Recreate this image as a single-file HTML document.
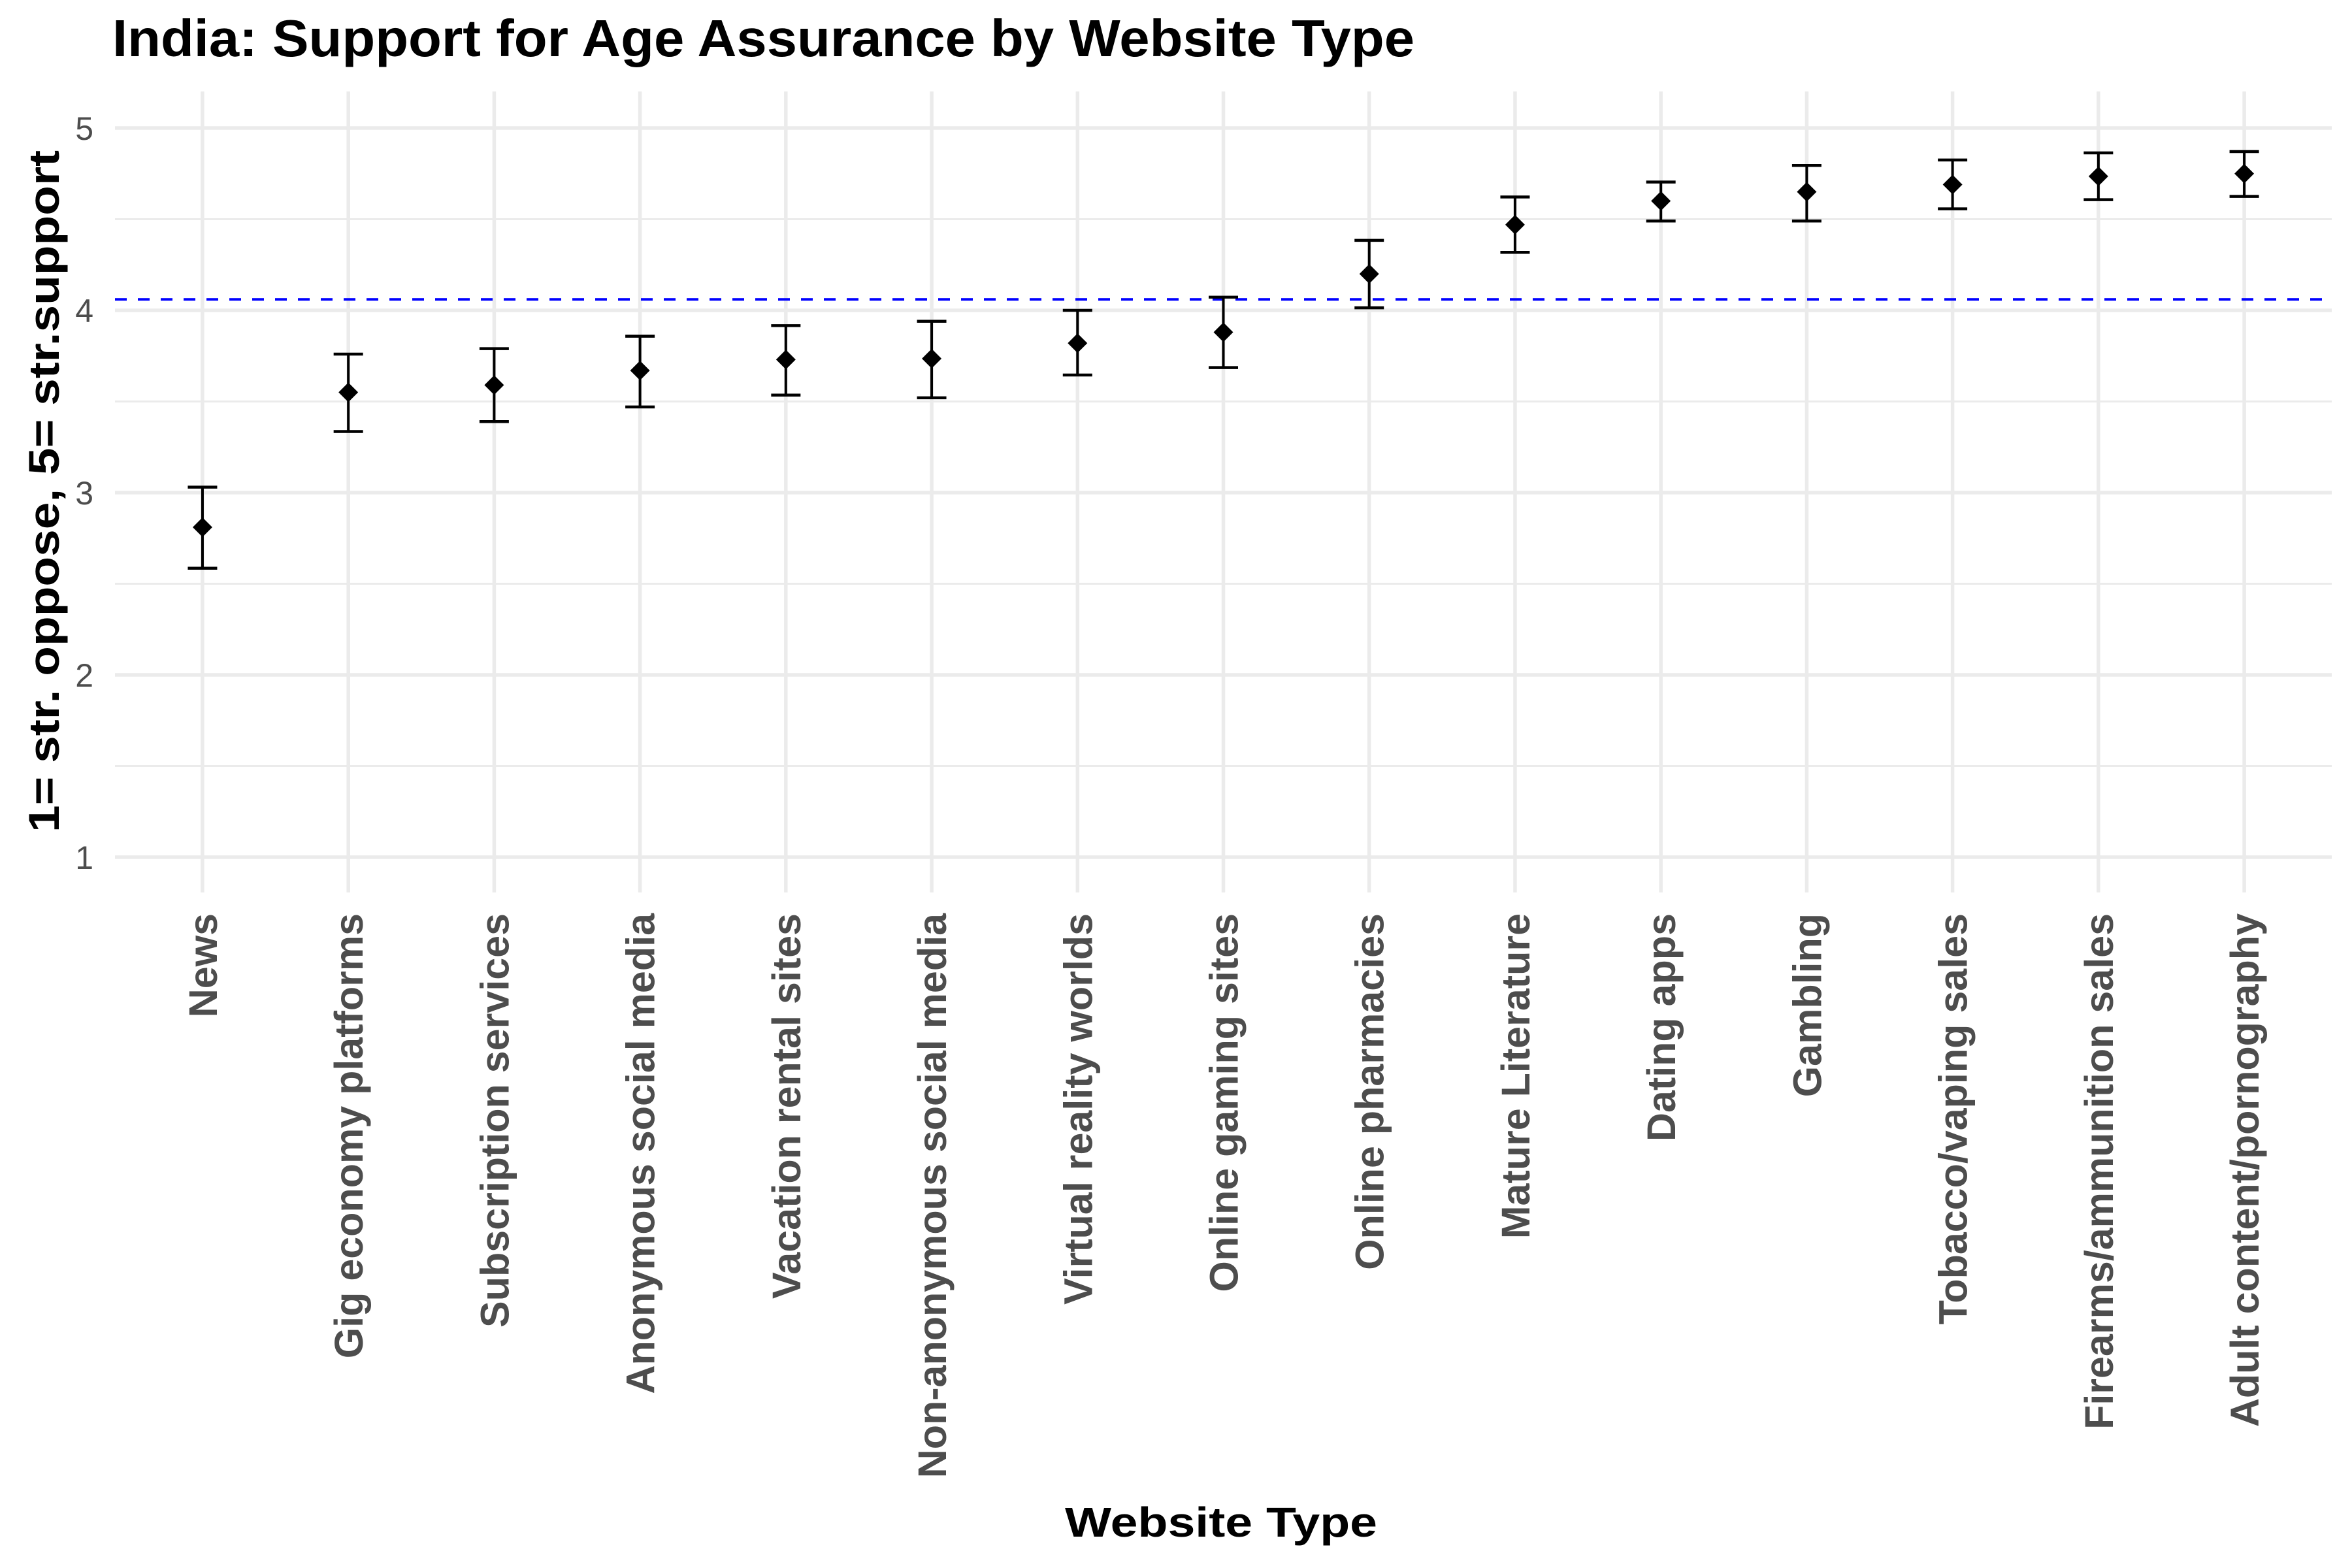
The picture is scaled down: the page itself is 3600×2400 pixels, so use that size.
<!DOCTYPE html>
<html><head><meta charset="utf-8"><style>html,body{margin:0;padding:0;background:#fff}svg{display:block}</style></head>
<body>
<svg id="chart" width="3600" height="2400" viewBox="0 0 3600 2400" xmlns="http://www.w3.org/2000/svg" font-family="Liberation Sans, Arial, sans-serif">
<rect x="0" y="0" width="3600" height="2400" fill="#fff"/>
<g id="grid"></g>
<g id="marks"></g>
<g id="labels"></g>
<text x="172" y="86" font-size="80" font-weight="bold" fill="#000" textLength="1993" lengthAdjust="spacingAndGlyphs">India: Support for Age Assurance by Website Type</text>
<text transform="translate(90,752) rotate(-90)" text-anchor="middle" font-size="66" font-weight="bold" fill="#000" textLength="1044" lengthAdjust="spacingAndGlyphs">1= str. oppose, 5= str.support</text>
<text x="1869" y="2352" text-anchor="middle" font-size="64" font-weight="bold" fill="#000" textLength="478" lengthAdjust="spacingAndGlyphs">Website Type</text>
</svg>
<script>
const categories = ["News","Gig economy platforms","Subscription services","Anonymous social media","Vacation rental sites","Non-anonymous social media","Virtual reality worlds","Online gaming sites","Online pharmacies","Mature Literature","Dating apps","Gambling","Tobacco/vaping sales","Firearms/ammunition sales","Adult content/pornography"];
const means = [2.81,3.55,3.59,3.67,3.73,3.735,3.82,3.88,4.20,4.47,4.60,4.65,4.69,4.735,4.75];
const lower = [2.585,3.335,3.39,3.47,3.535,3.52,3.645,3.686,4.014,4.318,4.49,4.49,4.557,4.607,4.625];
const upper = [3.03,3.76,3.79,3.858,3.916,3.94,4.0,4.072,4.384,4.622,4.704,4.795,4.825,4.864,4.871];
const refLine = 4.06;
const yTicks = [1,2,3,4,5];
const yMinor = [1.5,2.5,3.5,4.5];

const NS = "http://www.w3.org/2000/svg";
const L = 176, R = 3569, T = 140, B = 1366;
function xScale(i){ return L + (i + 0.6) * (R - L) / (categories.length - 1 + 1.2); }
function yScale(v){ return 1312 - (v - 1) * (1312 - 196) / 4; }
function mk(tag, attrs, parent){ const e = document.createElementNS(NS, tag); for (const k in attrs) e.setAttribute(k, attrs[k]); parent.appendChild(e); return e; }
const grid = document.getElementById('grid'), marks = document.getElementById('marks'), labels = document.getElementById('labels');

yMinor.forEach(v => {
  const l = mk('line', {x1:L, x2:R, y1:yScale(v), y2:yScale(v), stroke:'#ebebeb', 'stroke-width':3}, grid);
  
  
});
yTicks.forEach(v => {
  const l = mk('line', {x1:L, x2:R, y1:yScale(v), y2:yScale(v), stroke:'#ebebeb', 'stroke-width':5.5}, grid);
  
  
  const t = mk('text', {x:143, y:yScale(v) + 18, 'text-anchor':'end', 'font-size':50, fill:'#4d4d4d'}, labels);
  t.textContent = String(v);
  
  
});
categories.forEach((c, i) => {
  const x = xScale(i);
  const l = mk('line', {x1:x, x2:x, y1:T, y2:B, stroke:'#ebebeb', 'stroke-width':5.5}, grid);
  
  
  const t = mk('text', {transform:`translate(${x + 22},1398) rotate(-90)`, 'text-anchor':'end', 'font-size':61, 'font-weight':'bold', fill:'#4d4d4d'}, labels);
  t.textContent = c;
  
  
});
const rl = mk('line', {x1:L, x2:R, y1:yScale(refLine), y2:yScale(refLine), stroke:'#0000ff', 'stroke-width':4, 'stroke-dasharray':'18 17'}, marks);


categories.forEach((c, i) => {
  const x = xScale(i), yl = yScale(lower[i]), yu = yScale(upper[i]), ym = yScale(means[i]);
  const g = mk('g', {}, marks);
  
  
  mk('line', {x1:x, x2:x, y1:yu, y2:yl, stroke:'#000', 'stroke-width':4}, g);
  mk('line', {x1:x - 22.5, x2:x + 22.5, y1:yu, y2:yu, stroke:'#000', 'stroke-width':4.5}, g);
  mk('line', {x1:x - 22.5, x2:x + 22.5, y1:yl, y2:yl, stroke:'#000', 'stroke-width':4.5}, g);
  const p = mk('polygon', {points:`${x},${ym - 15} ${x + 15},${ym} ${x},${ym + 15} ${x - 15},${ym}`, fill:'#000'}, marks);
  
  
});
</script>
</body></html>
